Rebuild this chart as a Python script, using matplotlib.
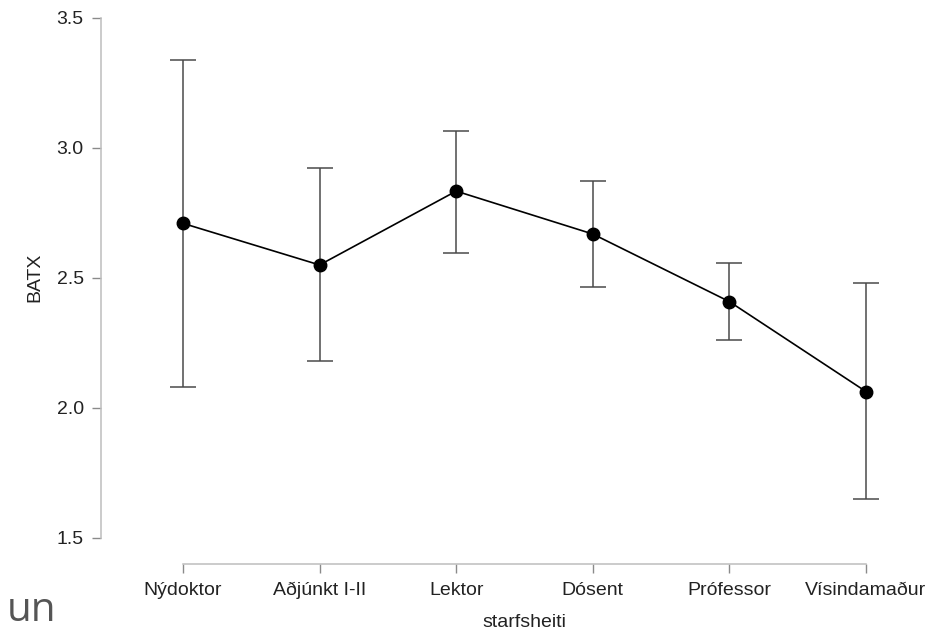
import matplotlib
matplotlib.use("Agg")
from matplotlib import pyplot as plt
import numpy as np

# values
categories = ["Nýdoktor", "Aðjúnkt I-II", "Lektor", "Dósent", "Prófessor", "Vísindamaður"]
means = [2.709, 2.549, 2.833, 2.668, 2.408, 2.062]
lower = [2.080, 2.180, 2.596, 2.463, 2.259, 1.648]
upper = [3.337, 2.921, 3.064, 2.873, 2.558, 2.480]
yticks = [1.5, 2.0, 2.5, 3.0, 3.5]

plt.rcParams['font.family'] = ['Liberation Sans', 'DejaVu Sans']
plt.rcParams['font.size'] = 14

fig = plt.figure(figsize=(9.51, 6.35), dpi=100)
ax = fig.add_axes([101 / 951, (635 - 564) / 635, 806 / 951, (564 - 17.7) / 635])

x = np.arange(len(categories))
m = np.array(means)
err = [m - np.array(lower), np.array(upper) - m]

ax.errorbar(x, m, yerr=err, fmt='none', ecolor='#4a4a4a', elinewidth=1.1,
            capsize=9.7, capthick=1.1, zorder=2)
ax.plot(x, m, color='black', lw=1.2, marker='o', markersize=9, zorder=3)

ax.set_xlim(-0.6, 5.3)
ax.set_ylim(1.5 - 26.3 / 260, 3.5)
ax.set_xticks(x)
ax.set_xticklabels(categories)
ax.set_yticks(yticks)
ax.set_yticklabels([f"{t:.1f}" for t in yticks])

for s in ['top', 'right']:
    ax.spines[s].set_visible(False)
for s in ['left', 'bottom']:
    ax.spines[s].set_color('#bdbdbd')
    ax.spines[s].set_linewidth(1.1)
ax.spines['left'].set_bounds(1.5, 3.5)
ax.spines['bottom'].set_bounds(0, 5)
ax.tick_params(axis='both', colors='#8a8a8a', length=6.5, width=1.0, labelcolor='#222222')
ax.tick_params(axis='y', pad=6)
# baseline-aligned category labels, so accents do not shift them
ax.tick_params(axis='x', pad=16)
for lbl in ax.get_xticklabels():
    lbl.set_va('baseline')

ax.set_xlabel("starfsheiti", color='#222222')
ax.xaxis.set_label_coords((524.5 - 101) / 806, -(614 - 564) / 546.3)
ax.set_ylabel("BATX", color='#222222')
ax.yaxis.set_label_coords((43 - 101) / 806, (564 - 277) / 546.3)

# leftover text at the lower left corner of the source image
fig.text(7 / 951, (635 - 621) / 635, "un", fontsize=29, color='#555555',
         family=['Open Sans', 'DejaVu Sans'], ha='left', va='baseline')

fig.savefig("out.png", dpi=100)
